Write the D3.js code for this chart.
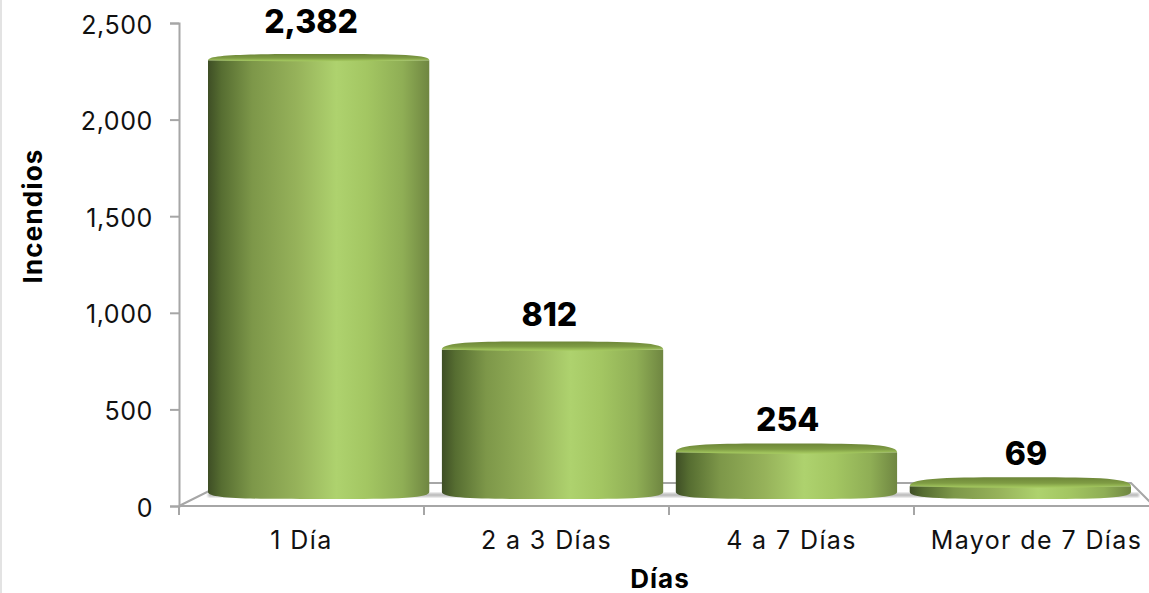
<!DOCTYPE html>
<html>
<head>
<meta charset="utf-8">
<script src="https://cdn.jsdelivr.net/npm/d3@7"></script>
<style>
  html, body { margin: 0; padding: 0; background: #fff; }
  svg { display: block; font-family: Inter, "Open Sans", sans-serif; }
</style>
</head>
<body>
<script>
var categories = ["1 Día", "2 a 3 Días", "4 a 7 Días", "Mayor de 7 Días"];
var values = [2382, 812, 254, 69];
var yTicks = [0, 500, 1000, 1500, 2000, 2500];

var width = 1149, height = 593;
var axisColor = "#a6a6a6";
var barBase = 492, ryBase = 7, floorBack = 483;

var svg = d3.select("body").append("svg")
    .attr("width", width)
    .attr("height", height);

//gradients for the cylinders
var defs = svg.append("defs");
var side = defs.append("linearGradient").attr("id", "side");
[[0, "#3e4e25"], [0.06, "#566d31"], [0.2, "#7d9749"], [0.4, "#96b25a"], [0.58, "#aed26e"],
 [0.72, "#a3c662"], [0.88, "#8fae55"], [1, "#6f8641"]].forEach(function (s) {
  side.append("stop").attr("offset", s[0]).attr("stop-color", s[1]);
});
var topFace = defs.append("linearGradient").attr("id", "topFace").attr("x2", 0).attr("y2", 1);
[[0, "#6d8638"], [0.55, "#7f9c44"], [0.9, "#a0c45c"], [1, "#a6cb60"]].forEach(function (s) {
  topFace.append("stop").attr("offset", s[0]).attr("stop-color", s[1]);
});
defs.append("filter").attr("id", "soft").append("feGaussianBlur").attr("stdDeviation", 1);

//scales: axes sit on the front plane, the bars stand further back
var yAxisScale = d3.scaleLinear().domain([0, 2500]).range([506, 23]);
var yBar = d3.scaleLinear().domain([0, 2500]).range([499, 38.5]);
var yLabel = d3.scaleLinear().domain([0, 2500]).range([478, 11]);
var ryTop = d3.scaleLinear().domain([0, 2500]).range([9, 6]);
var xAxisScale = d3.scaleBand().domain(categories).range([179, 1159]);
var xBar = d3.scaleBand().domain(categories).range([208, 1131]).paddingInner(0.054);
var xLabel = d3.scalePoint().domain(categories).range([311, 1026]);

//half of a flattened cylinder cap, left to right, bulging by ry (negative is up)
function capCurve(x0, w, cy, ry) {
  var h = w * 0.2;
  return "C" + x0 + "," + (cy + ry) + " " + (x0 + h) + "," + (cy + ry) + " " + (x0 + w / 2) + "," + (cy + ry)
    + "S" + (x0 + w) + "," + (cy + ry) + " " + (x0 + w) + "," + cy;
}

//page edge
svg.append("rect").attr("x", 0).attr("y", 0).attr("width", 2).attr("height", height).attr("fill", "#e3e3e3");

//floor
var floorLeft = xBar(categories[0]) + 17;
var floorRight = xBar(categories[3]) + xBar.bandwidth();
svg.append("path")
    .attr("d", "M179,506L" + floorLeft + "," + floorBack + "H" + floorRight + "L" + (floorRight + 23) + ",506")
    .attr("fill", "none")
    .attr("stroke", axisColor)
    .attr("stroke-width", 2);
svg.append("rect")
    .attr("x", xBar(categories[0])).attr("y", barBase + 1)
    .attr("width", floorRight - xBar(categories[0]) + 8).attr("height", 4)
    .attr("fill", "#bdbdbd")
    .attr("filter", "url(#soft)");

//y axis
var yAxis = d3.axisLeft(yAxisScale)
    .tickValues(yTicks)
    .tickFormat(d3.format(","))
    .tickSize(9)
    .tickPadding(17);
var gy = svg.append("g").attr("transform", "translate(179,0)").call(yAxis);

//x axis, ticks sit on the band edges
var xAxis = d3.axisBottom(xAxisScale).tickSize(0).tickPadding(25);
var gx = svg.append("g").attr("transform", "translate(0,506)").call(xAxis);
gx.selectAll(".xEdge")
    .data(categories)
    .enter().append("line")
    .attr("class", "xEdge")
    .attr("x1", function (d) { return xAxisScale(d); })
    .attr("x2", function (d) { return xAxisScale(d); })
    .attr("y1", 0)
    .attr("y2", 9);

[gy, gx].forEach(function (g) {
  g.selectAll(".domain").attr("stroke", axisColor).attr("stroke-width", 2);
  g.selectAll("line").attr("stroke", axisColor).attr("stroke-width", 2);
  g.selectAll("text")
      .attr("fill", "#111")
      .style("font-family", "Inter, sans-serif")
      .style("font-size", "25px")
      .style("font-weight", 400);
});
gy.selectAll("text").style("letter-spacing", "0.6px").attr("dy", "0.4em");
gx.selectAll("text").style("letter-spacing", "1.4px");
gx.select(".domain").attr("d", "M179,0H" + width);
gx.selectAll(".tick text").attr("dy", "0.71em");

//cylinders
var bars = svg.selectAll(".bar")
    .data(values)
    .enter().append("g")
    .attr("class", "bar");

bars.append("path")
    .attr("fill", "url(#side)")
    .attr("d", function (d, i) {
      var x0 = xBar(categories[i]), w = xBar.bandwidth();
      return "M" + x0 + "," + yBar(d)
        + "V" + barBase
        + capCurve(x0, w, barBase, ryBase)
        + "V" + yBar(d) + "Z";
    });

bars.append("path")
    .attr("fill", "url(#topFace)")
    .attr("d", function (d, i) {
      var x0 = xBar(categories[i]), w = xBar.bandwidth(), ry = ryTop(d);
      return "M" + x0 + "," + yBar(d)
        + capCurve(x0, w, yBar(d), -ry)
        + "Q" + (x0 + w / 2) + "," + (yBar(d) + ry * 0.35) + " " + x0 + "," + yBar(d) + "Z";
    });

//value labels
svg.selectAll(".value")
    .data(values)
    .enter().append("text")
    .attr("class", "value")
    .attr("x", function (d, i) { return xLabel(categories[i]); })
    .attr("y", function (d) { return yLabel(d); })
    .attr("text-anchor", "middle")
    .attr("fill", "#000")
    .style("font-size", "32px")
    .style("font-weight", 800)
    .text(d3.format(","));

//axis titles
svg.append("text")
    .attr("transform", "translate(42,216) rotate(-90)")
    .attr("text-anchor", "middle")
    .attr("fill", "#000")
    .style("font-size", "26px")
    .style("font-weight", 700)
    .style("letter-spacing", "1.2px")
    .text("Incendios");

svg.append("text")
    .attr("x", 660)
    .attr("y", 588)
    .attr("text-anchor", "middle")
    .attr("fill", "#000")
    .style("font-size", "26px")
    .style("font-weight", 700)
    .style("letter-spacing", "1px")
    .text("Días");
</script>
</body>
</html>
